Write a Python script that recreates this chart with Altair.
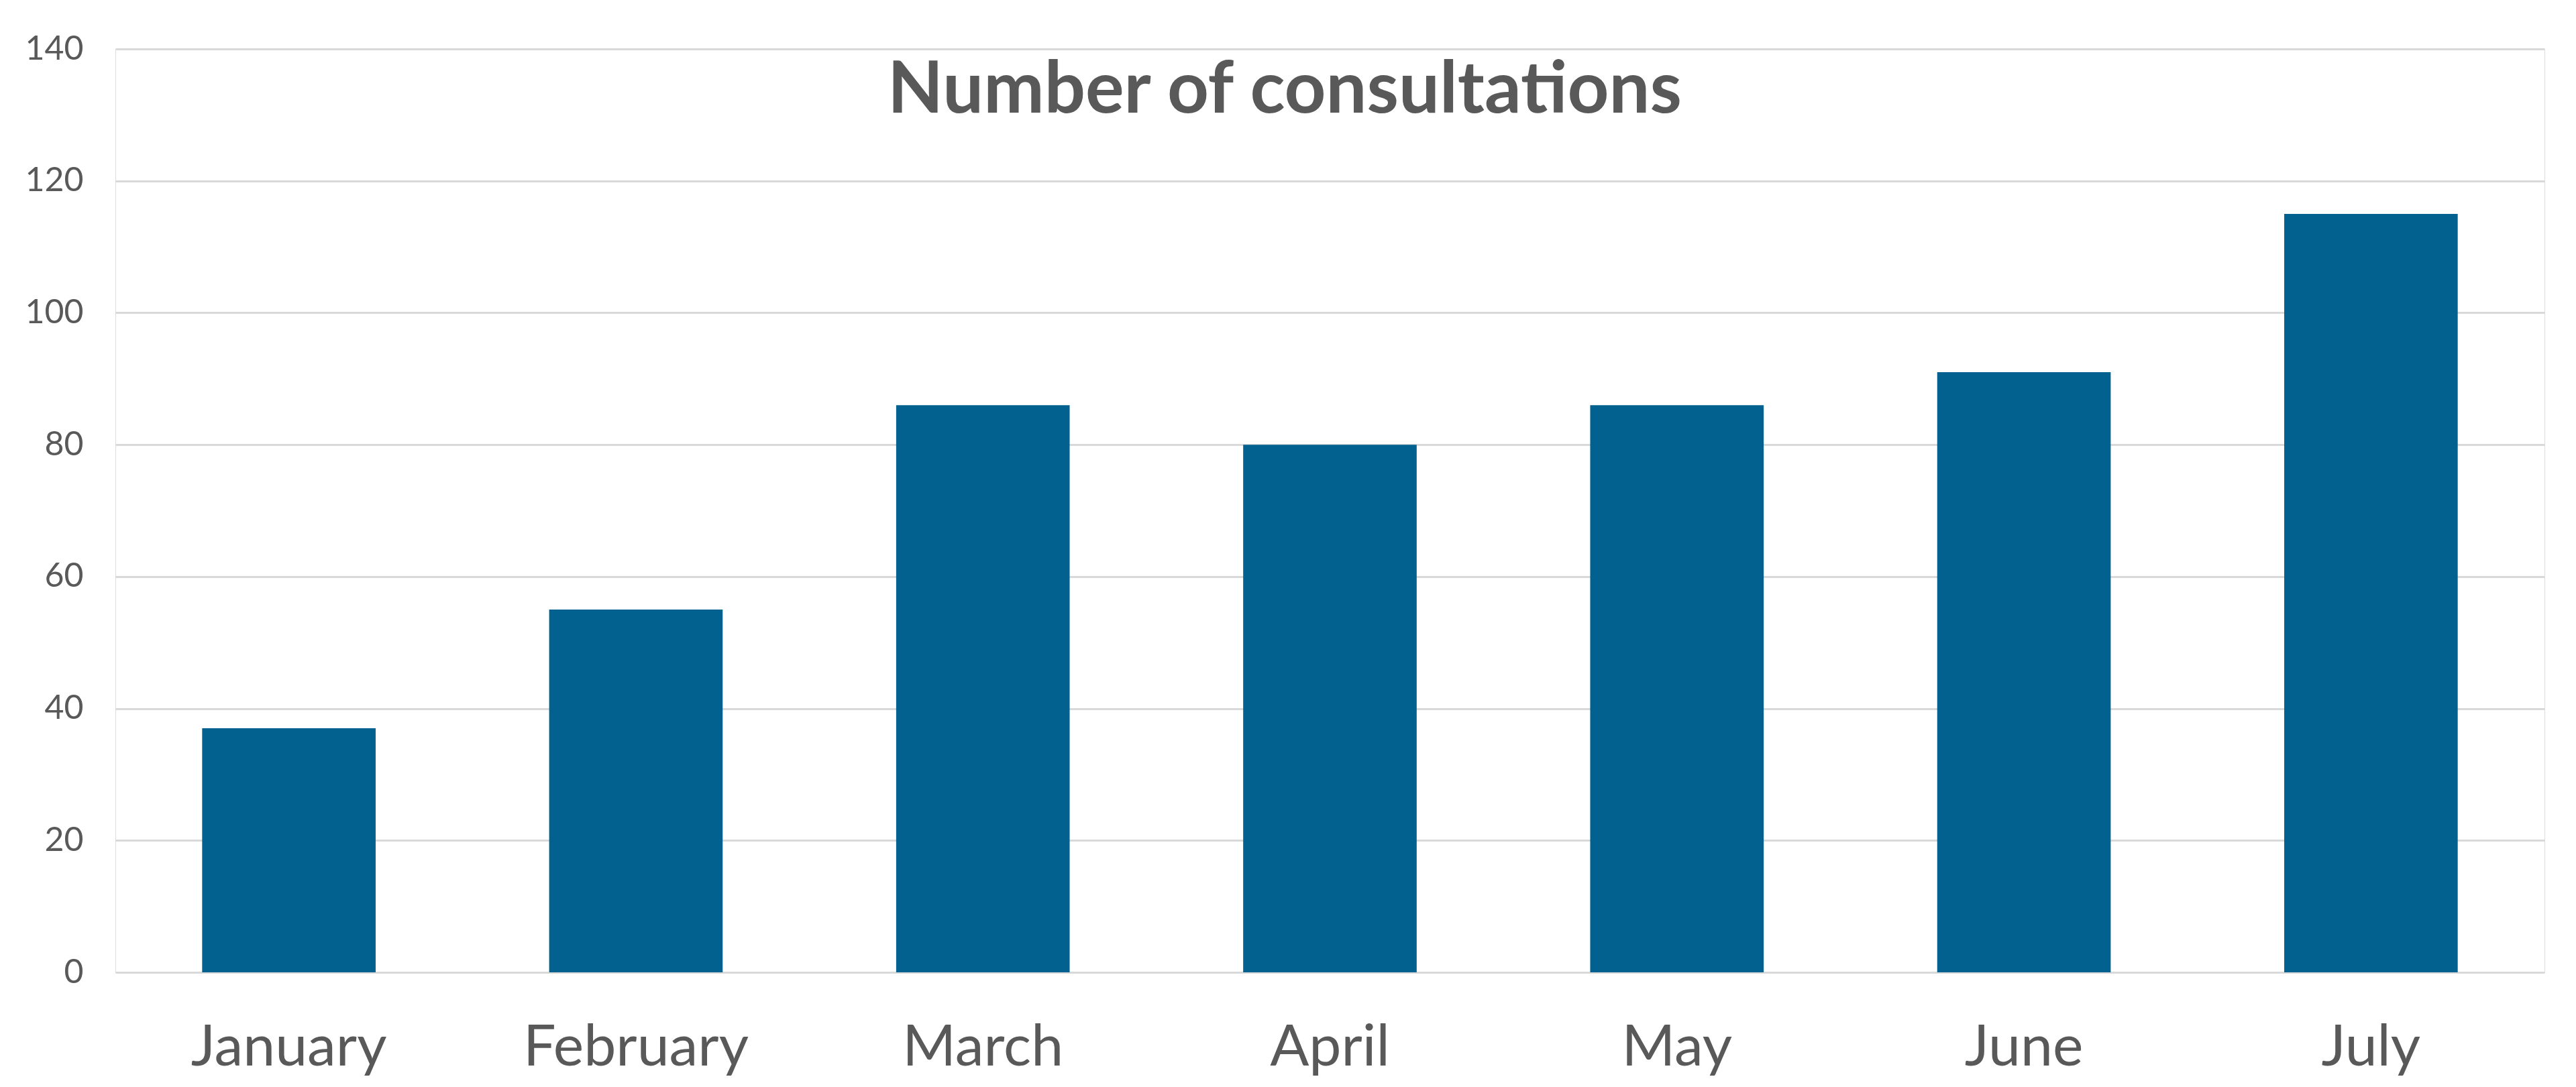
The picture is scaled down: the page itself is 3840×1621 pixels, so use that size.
import altair as alt
import pandas as pd

months = ["January", "February", "March", "April", "May", "June", "July"]
consultations = [37, 55, 86, 80, 86, 91, 115]
y_ticks = [0, 20, 40, 60, 80, 100, 120, 140]

df = pd.DataFrame({"month": months, "value": consultations})

chart = alt.Chart(df).mark_bar(color="#03618f").encode(
    x=alt.X("month:N", sort=months,
            scale=alt.Scale(paddingInner=0.5, paddingOuter=0.25),
            axis=alt.Axis(title=None, labelAngle=0, labelFont="Lato", labelFontSize=86,
                          labelColor="#595959", labelPadding=70, ticks=False, domain=False,
                          labelBaseline="top", labelLimit=0)),
    y=alt.Y("value:Q", scale=alt.Scale(domain=[0, 140], nice=False),
            axis=alt.Axis(title=None, values=y_ticks, labelFont="Lato", labelFontSize=50,
                          labelColor="#595959", labelPadding=48, ticks=False, domain=False,
                          gridColor="#d9d9d9", gridWidth=3, labelLimit=0)),
).properties(
    width=3621,
    height=1377,
    title=alt.TitleParams("Number of consultations", font="Lato", fontSize=108,
                          fontWeight="bold", color="#595959", anchor="middle",
                          frame="bounds", baseline="alphabetic", offset=-120, dy=108),
    autosize=alt.AutoSizeParams(type="none"),
    padding={"left": 172, "top": 73, "right": 47, "bottom": 171},
).configure_view(stroke=None).configure(background="white")

chart.save("out.html", embed_options={"renderer": "svg", "actions": False})
